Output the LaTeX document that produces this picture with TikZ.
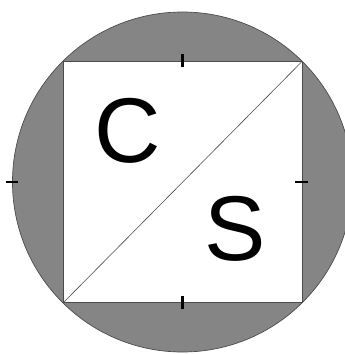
\documentclass[tikz,border=0pt]{standalone}
\usepackage{fontspec}
\setmainfont{Liberation Sans}
\definecolor{discgray}{gray}{0.52}
\definecolor{edgegray}{gray}{0.3}
\tikzset{
  disc/.style={fill=discgray, draw=edgegray, line width=0.7pt},
  sq/.style={fill=white, draw=edgegray, line width=0.9pt},
  diag/.style={draw=edgegray, line width=0.6pt},
  tick/.style={draw=black, line width=2.2pt},
  letter/.style={inner sep=0pt, font=\fontsize{92}{92}\selectfont}
}
\begin{document}
\begin{tikzpicture}[x=1pt, y=-1pt]
\useasboundingbox (0,0) rectangle (345,354);
\clip (0,0) rectangle (345,354);
\coordinate (o) at (182.5,182);
\coordinate (sw) at (63.5,302.5);
\coordinate (ne) at (302,61.5);
\fill[disc] (o) circle (170);
\draw[sq] (sw) rectangle (ne);
\draw[diag] (sw) -- (ne);

\node[letter] (c) at (128,131) {C};
\node[letter] (s) at (235,229) {S};

% ticks
\draw[tick] (182.5,54) -- (182.5,67);
\draw[tick] (182.5,296) -- (182.5,309);
\draw[tick] (6,182) -- (18,182);
\draw[tick] (295,182) -- (308,182);
\end{tikzpicture}
\end{document}
